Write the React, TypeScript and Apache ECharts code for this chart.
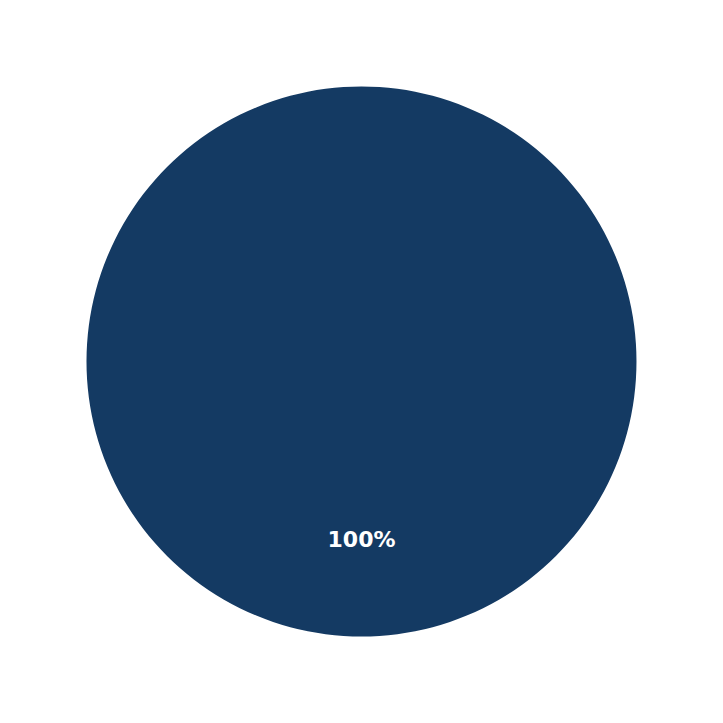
import { useEffect, useRef } from 'react'
import * as echarts from 'echarts'

const categories = ['Total']
const values = [100]
const colors = ['#143A63']

export default function App() {
  const ref = useRef<HTMLDivElement>(null)

  useEffect(() => {
    if (!ref.current) return
    const chart = echarts.init(ref.current, undefined, { renderer: 'svg' })
    const total = values.reduce((a, b) => a + b, 0)

    const option: echarts.EChartsOption = {
      animation: false,
      backgroundColor: '#ffffff',
      series: [
        {
          type: 'pie',
          center: [361.5, 361.5],
          radius: [0, 275],
          startAngle: 90,
          clockwise: true,
          silent: true,
          data: categories.map((name, i) => ({
            name,
            value: values[i],
            itemStyle: { color: colors[i] },
          })),
          label: {
            show: true,
            position: 'inside',
            // push label out to ~0.65 of the radius
            offset: [0, 37],
            formatter: (p: any) => `${Math.round((p.value / total) * 100)}%`,
            color: '#ffffff',
            fontSize: 22,
            fontWeight: 'bold',
            fontFamily: 'DejaVu Sans',
          },
          labelLine: { show: false },
        },
      ],
    }

    chart.setOption(option)
    return () => chart.dispose()
  }, [])

  return (
    <div
      ref={ref}
      style={{ position: 'fixed', left: 0, top: 0, width: 723, height: 723 }}
    />
  )
}
